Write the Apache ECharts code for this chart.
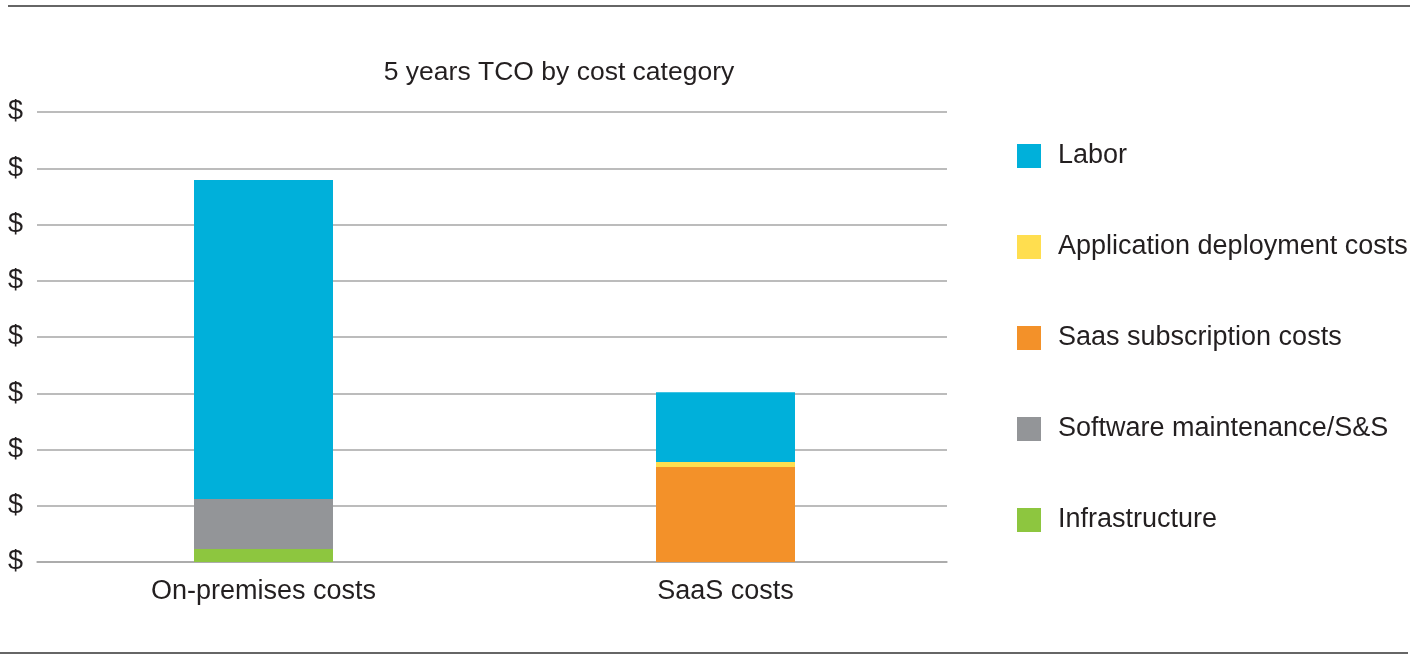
<!DOCTYPE html>
<html><head><meta charset="utf-8">
<script src="https://cdn.jsdelivr.net/npm/echarts@6/dist/echarts.min.js"></script>
<style>html,body{margin:0;padding:0;background:#fff}#c{width:1426px;height:656px}</style>
</head><body><div id="c"></div>
<script>
const categories = ['On-premises costs', 'SaaS costs'];
const seriesNames = ['Labor', 'Application deployment costs', 'Saas subscription costs', 'Software maintenance/S&S', 'Infrastructure'];
const infrastructure = [0.23, 0];
const softwareMaintenance = [0.89, 0];
const saasSubscription = [0, 1.69];
const appDeployment = [0, 0.09];
const labor = [5.67, 1.24];
const yTickLabel = '$';

const colors = {
  'Labor': '#00b0da',
  'Application deployment costs': '#ffde4f',
  'Saas subscription costs': '#f39129',
  'Software maintenance/S&S': '#939598',
  'Infrastructure': '#8dc63f'
};
const font = '"Liberation Sans", Arial, Helvetica, sans-serif';
const txt = '#231f20';

const stackOrder = [
  ['Infrastructure', infrastructure],
  ['Software maintenance/S&S', softwareMaintenance],
  ['Saas subscription costs', saasSubscription],
  ['Application deployment costs', appDeployment],
  ['Labor', labor]
];

const chart = echarts.init(document.getElementById('c'), null, {renderer: 'canvas'});
chart.setOption({
  animation: false,
  title: {
    text: '5 years TCO by cost category',
    left: 554, top: 54, textAlign: 'center',
    textStyle: {fontFamily: font, fontSize: 26.5, fontWeight: 'normal', color: txt}
  },
  legend: {
    orient: 'vertical',
    left: 1017, top: 142.5, padding: 0,
    itemWidth: 24, itemHeight: 24, itemGap: 64,
    icon: 'rect',
    data: seriesNames,
    textStyle: {fontFamily: font, fontSize: 27, lineHeight: 24, color: txt, padding: [0, 0, 0, 12]},
    selectedMode: false
  },
  grid: [
    {left: 37, right: 479, top: 112, bottom: 94, containLabel: false},
    {left: 32.5, right: 469.5, top: 112, bottom: 94, containLabel: false}
  ],
  xAxis: [
    {
      type: 'category', data: categories, gridIndex: 0,
      axisLine: {lineStyle: {color: '#a6a6a6', width: 1.5}},
      axisTick: {show: false},
      axisLabel: {show: false}
    },
    {
      type: 'category', data: categories, gridIndex: 1,
      axisLine: {show: false},
      axisTick: {show: false},
      axisLabel: {fontFamily: font, fontSize: 27, color: txt, margin: 16}
    }
  ],
  yAxis: [
    {
      type: 'value', min: 0, max: 8, interval: 1, gridIndex: 0,
      axisLine: {show: false}, axisTick: {show: false},
      axisLabel: {formatter: () => yTickLabel, fontFamily: font, fontSize: 27, color: txt, margin: 14},
      splitLine: {lineStyle: {color: '#a6a6a6', width: 1.5}}
    },
    {
      type: 'value', min: 0, max: 8, interval: 1, gridIndex: 1, show: false,
      splitLine: {show: false}
    }
  ],
  graphic: [
    {type: 'line', shape: {x1: 8, y1: 6, x2: 1410, y2: 6}, style: {stroke: '#333', lineWidth: 1.5}},
    {type: 'line', shape: {x1: 0, y1: 653, x2: 1408, y2: 653}, style: {stroke: '#333', lineWidth: 1.5}}
  ],
  series: stackOrder.map(([name, data]) => ({
    name, type: 'bar', stack: 'total', data,
    xAxisIndex: 1, yAxisIndex: 1,
    barWidth: 139,
    itemStyle: {color: colors[name]},
    emphasis: {disabled: true}
  }))
});
</script></body></html>
